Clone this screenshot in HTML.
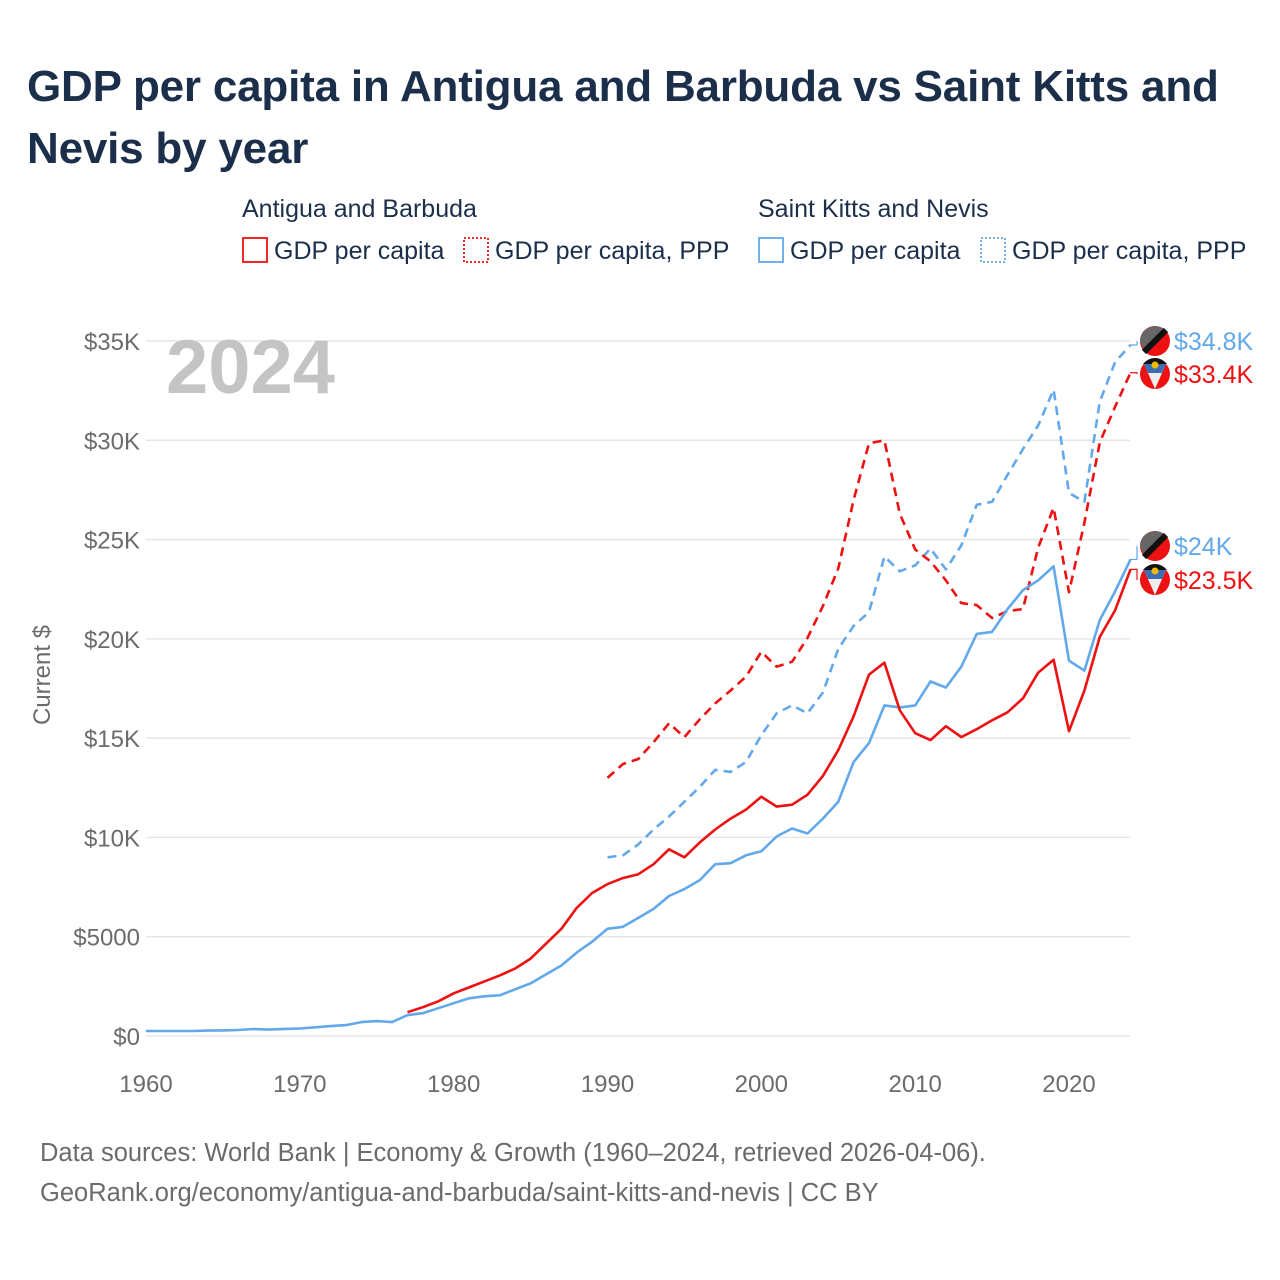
<!DOCTYPE html>
<html><head><meta charset="utf-8">
<style>
body{margin:0;background:#fff;font-family:"Liberation Sans",sans-serif;}
#wrap{position:relative;width:1280px;height:1280px;overflow:hidden;background:#fff}
h1{position:absolute;left:27px;top:56px;margin:0;font-size:44px;line-height:62px;color:#1b2f4b;font-weight:bold;letter-spacing:-0.2px}
.src{position:absolute;left:40px;font-size:25.5px;color:#6b6b6b}
</style></head><body>
<div id="wrap">
<h1>GDP per capita in Antigua and Barbuda vs Saint Kitts and<br>Nevis by year</h1>
<svg id="chart" width="1280" height="1280" style="position:absolute;left:0;top:0"></svg>
<div class="src" style="top:1139px">Data sources: World Bank | Economy &amp; Growth (1960–2024, retrieved 2026-04-06).</div>
<div class="src" style="top:1179px">GeoRank.org/economy/antigua-and-barbuda/saint-kitts-and-nevis | CC BY</div>
</div>
<script>
const agYears=[1977,1978,1979,1980,1981,1982,1983,1984,1985,1986,1987,1988,1989,1990,1991,1992,1993,1994,1995,1996,1997,1998,1999,2000,2001,2002,2003,2004,2005,2006,2007,2008,2009,2010,2011,2012,2013,2014,2015,2016,2017,2018,2019,2020,2021,2022,2023,2024];
const agGdp=[1200,1450,1750,2150,2450,2750,3050,3400,3900,4650,5400,6450,7200,7650,7950,8150,8650,9400,9000,9750,10400,10950,11400,12050,11550,11650,12150,13100,14400,16100,18200,18800,16400,15250,14900,15600,15050,15450,15900,16300,17000,18300,18950,15350,17400,20100,21450,23500];
const pppYears=[1990,1991,1992,1993,1994,1995,1996,1997,1998,1999,2000,2001,2002,2003,2004,2005,2006,2007,2008,2009,2010,2011,2012,2013,2014,2015,2016,2017,2018,2019,2020,2021,2022,2023,2024];
const agPpp=[13000,13700,13950,14800,15750,15050,15950,16750,17400,18100,19350,18600,18850,20050,21650,23550,27000,29850,30000,26300,24500,23900,22950,21800,21700,21050,21400,21500,24600,26600,22350,25850,29900,31700,33400];
const knYears=[1960,1961,1962,1963,1964,1965,1966,1967,1968,1969,1970,1971,1972,1973,1974,1975,1976,1977,1978,1979,1980,1981,1982,1983,1984,1985,1986,1987,1988,1989,1990,1991,1992,1993,1994,1995,1996,1997,1998,1999,2000,2001,2002,2003,2004,2005,2006,2007,2008,2009,2010,2011,2012,2013,2014,2015,2016,2017,2018,2019,2020,2021,2022,2023,2024];
const knGdp=[250,250,250,250,270,280,300,350,320,360,380,440,500,550,700,750,700,1050,1150,1400,1650,1900,2000,2050,2350,2650,3100,3550,4200,4750,5400,5500,5950,6400,7050,7400,7850,8650,8700,9100,9300,10050,10450,10200,10950,11800,13800,14750,16650,16550,16650,17850,17550,18600,20250,20350,21500,22450,22950,23650,18900,18400,20950,22400,24000];
const knPpp=[9000,9100,9650,10400,11050,11800,12550,13400,13300,13800,15150,16250,16650,16250,17300,19500,20650,21350,24150,23400,23700,24550,23500,24700,26750,26900,28250,29550,30750,32550,27350,26900,31950,33950,34800];
const yTicks=[0,5000,10000,15000,20000,25000,30000,35000];
const yTickLabels=["$0","$5000","$10K","$15K","$20K","$25K","$30K","$35K"];
const xTicks=[1960,1970,1980,1990,2000,2010,2020];

const svg=document.getElementById('chart');
const NS='http://www.w3.org/2000/svg';
const X=y=>146+(y-1960)*(1069-146)/60;
const Y=v=>1036-v*695/35000;
function mk(t,a,p){const e=document.createElementNS(NS,t);for(const k in a)e.setAttribute(k,a[k]);(p||svg).appendChild(e);return e;}
function txt(s,a){const e=mk('text',a);e.textContent=s;return e;}

yTicks.forEach((v,i)=>{
  const g=mk('line',{x1:146,x2:1130,y1:Y(v),y2:Y(v),stroke:'#e6e6e6','stroke-width':1.5});
  
  
  const t=txt(yTickLabels[i],{x:140,y:Y(v)+9,'text-anchor':'end','font-size':24,fill:'#6b6b6b'});
  
  
});
xTicks.forEach(yr=>{
  const t=txt(String(yr),{x:X(yr),y:1092,'text-anchor':'middle','font-size':24,fill:'#6b6b6b'});
  
  
});
const yt=txt('Current $',{x:0,y:0,transform:'translate(50,675) rotate(-90)','text-anchor':'middle','font-size':24,fill:'#6b6b6b'});


const yr=txt('2024',{x:166,y:393,'font-size':76,'font-weight':'bold',fill:'#c4c4c4'});



function line(xs,vs,color,dash,name){
  const d=xs.map((x,i)=>(i?'L':'M')+X(x).toFixed(1)+' '+Y(vs[i]).toFixed(1)).join(' ');
  const p=mk('path',{d:d,fill:'none',stroke:color,'stroke-width':2.6,'stroke-linejoin':'round','stroke-dasharray':dash?'9 6':'none'});
  
  
}
line(pppYears,knPpp,'#63a8ea',true,'saint-kitts-ppp-line');
line(pppYears,agPpp,'#ee1111',true,'antigua-ppp-line');
line(knYears,knGdp,'#63a8ea',false,'saint-kitts-gdp-line');
line(agYears,agGdp,'#ee1111',false,'antigua-gdp-line');

function flag(cx,cy,kind,name){
  const g=mk('g',{});
  
  
  if(kind==='kn'){
    mk('circle',{cx:cx,cy:cy,r:15,fill:'#ee1111'},g);
    mk('path',{d:`M${cx-15} ${cy} A15 15 0 0 1 ${cx+10} ${cy-11} L${cx-11} ${cy+10} Z`,fill:'#666'},g);
    mk('line',{x1:cx-11,y1:cy+11,x2:cx+11,y2:cy-11,stroke:'#111','stroke-width':6},g);
  }else{
    mk('circle',{cx:cx,cy:cy,r:15,fill:'#ee1111'},g);
    mk('path',{d:`M${cx-11} ${cy-10} L${cx+11} ${cy-10} L${cx} ${cy+15} Z`,fill:'#eee'},g);
    mk('path',{d:`M${cx-11} ${cy-10} L${cx+11} ${cy-10} L${cx+7} ${cy-1} L${cx-7} ${cy-1} Z`,fill:'#3b6fb5'},g);
    mk('path',{d:`M${cx-12} ${cy-10} A15 15 0 0 1 ${cx+12} ${cy-10} Z`,fill:'#111'},g);
    mk('circle',{cx:cx,cy:cy-9,r:3.5,fill:'#f5b800'},g);
  }
}
const labels=[[knPpp[knPpp.length-1],'kn','#63a8ea',341,'label-kn-ppp'],[agPpp[agPpp.length-1],'ag','#ee1111',374,'label-ag-ppp'],[knGdp[knGdp.length-1],'kn','#63a8ea',546,'label-kn-gdp'],[agGdp[agGdp.length-1],'ag','#ee1111',580,'label-ag-gdp']];
labels.forEach(([v,k,c,ly,n])=>{
  const s='$'+(Math.round(v/100)/10)+'K';
  flag(1155,ly,k,n+'-flag');
  const c1=mk('path',{d:`M1130 ${Y(v)} L1137 ${Y(v)} L1137 ${ly}`,fill:'none',stroke:c,'stroke-width':1.2});
  
  
  const t=txt(s,{x:1174,y:ly+9,'font-size':25,fill:c});
  
  
});

const lg=[["Antigua and Barbuda",242,217,'legend-group-antigua'],["Saint Kitts and Nevis",758,217,'legend-group-saint-kitts']];
lg.forEach(([s,x,y,n])=>{const t=txt(s,{x:x,y:y,'font-size':25,fill:'#1b2f4b'});});
const le=[[243,'#ee1111',false,'GDP per capita','legend-antigua-gdp'],[464,'#ee1111',true,'GDP per capita, PPP','legend-antigua-ppp'],[759,'#63a8ea',false,'GDP per capita','legend-kn-gdp'],[981,'#63a8ea',true,'GDP per capita, PPP','legend-kn-ppp']];
le.forEach(([x,c,d,s,n])=>{
  const g=mk('g',{});
  
  
  mk('rect',{x:x,y:238,width:24,height:24,fill:'none',stroke:c,'stroke-width':1.8,'stroke-dasharray':d?'2 2':'none'},g);
  const t=mk('text',{x:x+31,y:259,'font-size':25,fill:'#1b2f4b'},g);t.textContent=s;
});
</script>
</body></html>
